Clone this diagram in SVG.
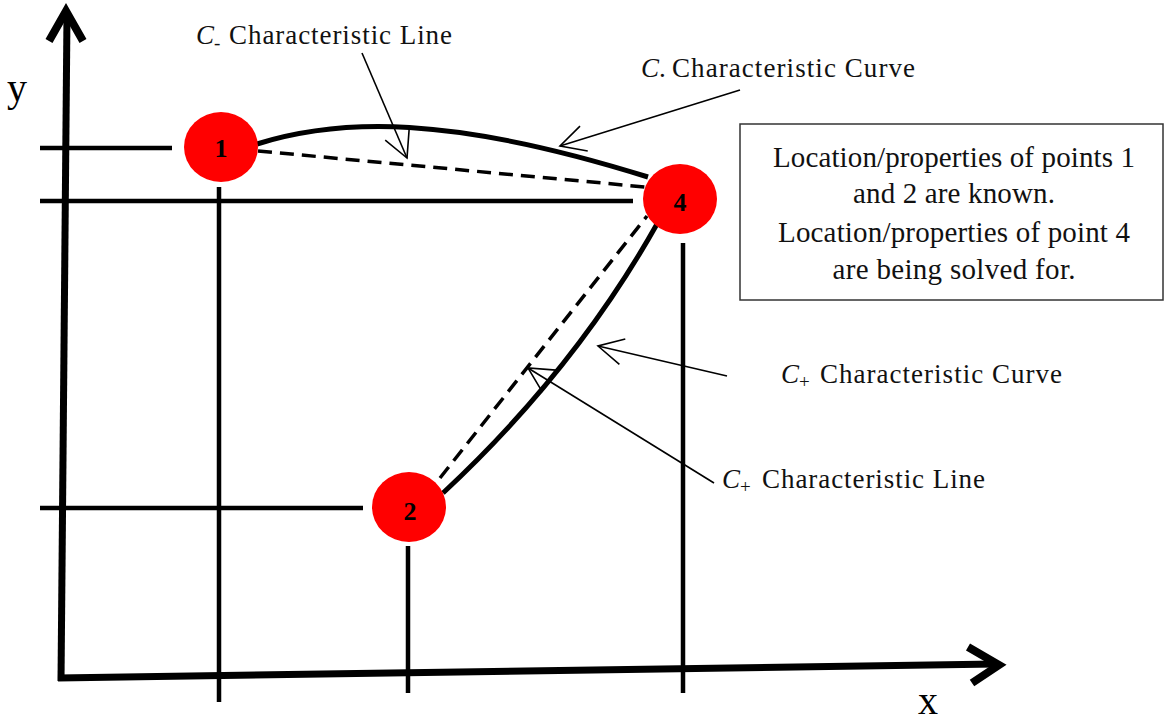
<svg xmlns="http://www.w3.org/2000/svg" width="1165" height="723" viewBox="0 0 1165 723">
<defs>
<style>
.axis{stroke:#000;stroke-width:7;fill:none}
.axhead{stroke:#000;stroke-width:8;fill:none;stroke-linejoin:miter}
.guide{stroke:#000;stroke-width:4.5;fill:none}
.curve{stroke:#000;stroke-width:5;fill:none}
.dash{stroke:#000;stroke-width:3.5;fill:none;stroke-dasharray:14 8}
.conn{stroke:#000;stroke-width:1.6;fill:none;marker-end:url(#chev)}
.node{fill:#ff0000}
.num{font-family:"Liberation Serif",serif;font-size:26px;font-weight:bold;fill:#000;text-anchor:middle}
.lbl{font-family:"Liberation Serif",serif;font-size:27px;fill:#111}
.it{font-style:italic}
.sub{font-size:19px}
.box{font-family:"Liberation Serif",serif;font-size:29px;fill:#111;text-anchor:middle}
.ax{font-family:"Liberation Serif",serif;font-size:40px;fill:#000}
</style>
<marker id="chev" markerUnits="userSpaceOnUse" viewBox="-28 -15 30 30" refX="0" refY="0" markerWidth="30" markerHeight="30" orient="auto">
<path d="M-25,-13 L0,0 L-25,13" fill="none" stroke="#000" stroke-width="1.6"/>
</marker>
</defs>
<rect width="1165" height="723" fill="#fff"/>

<g id="axes">
<line class="axis" x1="67" y1="14" x2="61" y2="681"/>
<polyline class="axhead" points="49,41 66,11 83,41"/>
<line class="axis" x1="58" y1="678" x2="996" y2="664"/>
<polyline class="axhead" points="968,647 999,665 972,683"/>
<text class="ax" x="7" y="101">y</text>
<text class="ax" x="918" y="714">x</text>
</g>

<g id="guides">
<line class="guide" x1="40" y1="148" x2="172" y2="148"/>
<line class="guide" x1="40" y1="201" x2="633" y2="201"/>
<line class="guide" x1="40" y1="508" x2="363" y2="508"/>
<line class="guide" x1="219" y1="187" x2="219" y2="702"/>
<line class="guide" x1="408" y1="546" x2="408" y2="693"/>
<line class="guide" x1="683" y1="243" x2="683" y2="693"/>
</g>

<g id="connectors">
<path class="curve" d="M257,144 C340,118 450,115 648,177"/>
<line class="dash" x1="258" y1="151" x2="645" y2="187"/>
<path class="curve" d="M443,493 Q575,370 657,224"/>
<line class="dash" x1="440" y1="478" x2="647" y2="216"/>
<line class="conn" x1="362" y1="53" x2="407" y2="158"/>
<line class="conn" x1="740" y1="90" x2="560" y2="146"/>
<line class="conn" x1="727" y1="376" x2="598" y2="346"/>
<line class="conn" x1="714" y1="483" x2="528" y2="368"/>
</g>

<g id="node1">
<ellipse class="node" cx="221" cy="147" rx="37" ry="35"/>
<text class="num" x="221" y="157">1</text>
</g>
<g id="node4">
<ellipse class="node" cx="680" cy="199" rx="37" ry="35"/>
<text class="num" x="680" y="211">4</text>
</g>
<g id="node2">
<ellipse class="node" cx="409" cy="507" rx="37" ry="35"/>
<text class="num" x="410" y="520">2</text>
</g>

<g id="label-cminus-line">
<text class="lbl" x="196" y="44"><tspan class="it">C</tspan><tspan class="sub" x="214" y="49">-</tspan></text>
<text class="lbl" x="229" y="44" textLength="223">Characteristic Line</text>
</g>
<g id="label-cminus-curve">
<text class="lbl" x="641" y="77"><tspan class="it">C</tspan><tspan x="659">.</tspan></text>
<text class="lbl" x="672" y="77" textLength="243">Characteristic Curve</text>
</g>
<g id="label-cplus-curve">
<text class="lbl" x="781" y="383"><tspan class="it">C</tspan><tspan class="sub" x="799" y="388">+</tspan></text>
<text class="lbl" x="820" y="383" textLength="242">Characteristic Curve</text>
</g>
<g id="label-cplus-line">
<text class="lbl" x="722" y="488"><tspan class="it">C</tspan><tspan class="sub" x="740" y="493">+</tspan></text>
<text class="lbl" x="762" y="488" textLength="223">Characteristic Line</text>
</g>

<g id="infobox">
<rect x="740" y="124" width="423" height="176" fill="#fff" stroke="#333" stroke-width="1.5"/>
<text class="box" x="954" y="167" textLength="362">Location/properties of points 1</text>
<text class="box" x="954" y="203" textLength="202">and 2 are known.</text>
<text class="box" x="954" y="242" textLength="352">Location/properties of point 4</text>
<text class="box" x="954" y="279" textLength="243">are being solved for.</text>
</g>
</svg>
